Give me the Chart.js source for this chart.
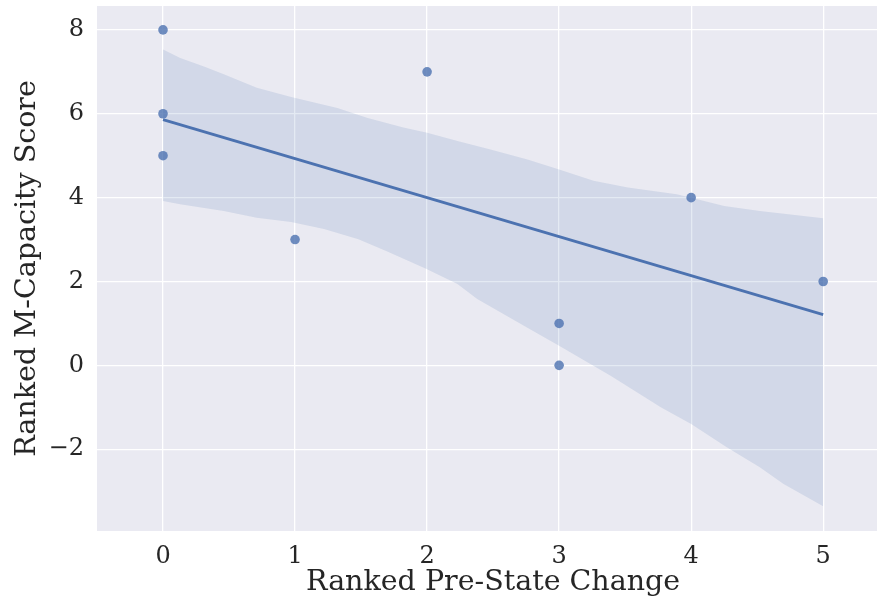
<!DOCTYPE html>
<html>
<head>
<meta charset="utf-8">
<script src="https://cdn.jsdelivr.net/npm/chart.js@4/dist/chart.umd.min.js"></script>
<style>
  html, body { margin: 0; padding: 0; background: #ffffff; overflow: hidden; }
  #wrap { width: 877px; height: 602px; overflow: hidden; }
</style>
</head>
<body>
<div id="wrap"><canvas id="c" width="894" height="602"></canvas></div>
<script>
// Observations
const preStateChange = [0, 0, 0, 1, 2, 3, 3, 4, 5];
const mCapacityScore = [8, 6, 5, 3, 7, 1, 0, 4, 2];

// Fitted regression line endpoints
const fitX = [0, 5];
const fitY = [5.86, 1.21];

// Confidence band (bootstrap), upper and lower edges
const bandUpperX = [0, 0.13, 0.31, 0.46, 0.71, 0.97, 1.32, 1.55, 1.82, 2.0, 2.23, 2.48, 2.76, 3.0, 3.26, 3.52, 3.89, 4.0, 4.25, 4.52, 5.0];
const bandUpperY = [7.53, 7.33, 7.13, 6.94, 6.62, 6.40, 6.14, 5.90, 5.67, 5.55, 5.35, 5.15, 4.91, 4.67, 4.40, 4.24, 4.08, 4.0, 3.80, 3.68, 3.51];
const bandLowerX = [0, 0.13, 0.46, 0.71, 0.97, 1.22, 1.48, 1.69, 1.89, 2.0, 2.23, 2.38, 2.76, 3.0, 3.39, 3.77, 4.0, 4.27, 4.52, 4.70, 5.0];
const bandLowerY = [3.92, 3.84, 3.68, 3.52, 3.42, 3.25, 3.01, 2.73, 2.45, 2.29, 1.94, 1.58, 0.90, 0.47, -0.25, -1.0, -1.40, -1.95, -2.43, -2.83, -3.36];

// Tick values
const xTicks = [0, 1, 2, 3, 4, 5];
const yTicks = [-2, 0, 2, 4, 6, 8];

const zip = (xs, ys) => xs.map((x, i) => ({ x: x, y: ys[i] }));

const BLUE = '#4C72B0';
const TEXT = '#262626';
const FONT = "'DejaVu Serif', serif";

// Keep the plot area edges fixed: no extra room reserved for edge tick labels
const noScalePadding = s => {
  s.paddingTop = 0; s.paddingBottom = 0; s.paddingLeft = 0; s.paddingRight = 0;
};

new Chart(document.getElementById('c'), {
  type: 'scatter',
  data: {
    datasets: [
      {
        label: 'lower',
        type: 'line',
        data: zip(bandLowerX, bandLowerY),
        borderWidth: 0,
        pointRadius: 0,
        fill: false,
        order: 3
      },
      {
        label: 'upper',
        type: 'line',
        data: zip(bandUpperX, bandUpperY),
        borderWidth: 0,
        pointRadius: 0,
        backgroundColor: 'rgba(76,114,176,0.15)',
        fill: '-1',
        order: 2
      },
      {
        label: 'fit',
        type: 'line',
        data: zip(fitX, fitY),
        borderColor: BLUE,
        borderWidth: 2.8,
        pointRadius: 0,
        fill: false,
        order: 1
      },
      {
        label: 'points',
        data: zip(preStateChange, mCapacityScore),
        backgroundColor: 'rgba(76,114,176,0.8)',
        borderWidth: 0,
        pointRadius: 4.8,
        order: 0
      }
    ]
  },
  options: {
    responsive: false,
    devicePixelRatio: 1,
    animation: false,
    layout: { padding: { top: 6, right: 0, left: 0, bottom: 0 } },
    plugins: {
      legend: { display: false },
      tooltip: { enabled: false }
    },
    scales: {
      x: {
        type: 'linear',
        min: -0.5,
        max: 5.5,
        afterBuildTicks: s => { s.ticks = xTicks.map(v => ({ value: v })); },
        afterFit: s => { s.height = 71; noScalePadding(s); },
        grid: { color: '#ffffff', lineWidth: 1.3, drawTicks: false },
        border: { display: false },
        ticks: { color: TEXT, font: { family: FONT, size: 24 }, padding: 11, maxRotation: 0 },
        title: { display: true, text: 'Ranked Pre-State Change', color: TEXT, font: { family: FONT, size: 28.5 }, padding: { top: 0, bottom: 2 } }
      },
      y: {
        type: 'linear',
        min: -3.95,
        max: 8.57,
        afterBuildTicks: s => { s.ticks = yTicks.map(v => ({ value: v })); },
        afterFit: s => { s.width = 97; noScalePadding(s); },
        grid: { color: '#ffffff', lineWidth: 1.3, drawTicks: false },
        border: { display: false },
        ticks: {
          color: TEXT,
          font: { family: FONT, size: 24 },
          padding: 13,
          callback: v => (v < 0 ? '\u2212' + Math.abs(v) : String(v))
        },
        title: { display: true, text: 'Ranked M-Capacity Score', color: TEXT, font: { family: FONT, size: 28.5 }, padding: { top: 10, bottom: 4 } }
      }
    }
  },
  plugins: [{
    id: 'plotBackground',
    beforeDraw(chart) {
      const { ctx, chartArea: a } = chart;
      ctx.save();
      ctx.fillStyle = '#EAEAF2';
      ctx.fillRect(a.left, a.top, a.right - a.left, a.bottom - a.top);
      ctx.restore();
    }
  }]
});
</script>
</body>
</html>
